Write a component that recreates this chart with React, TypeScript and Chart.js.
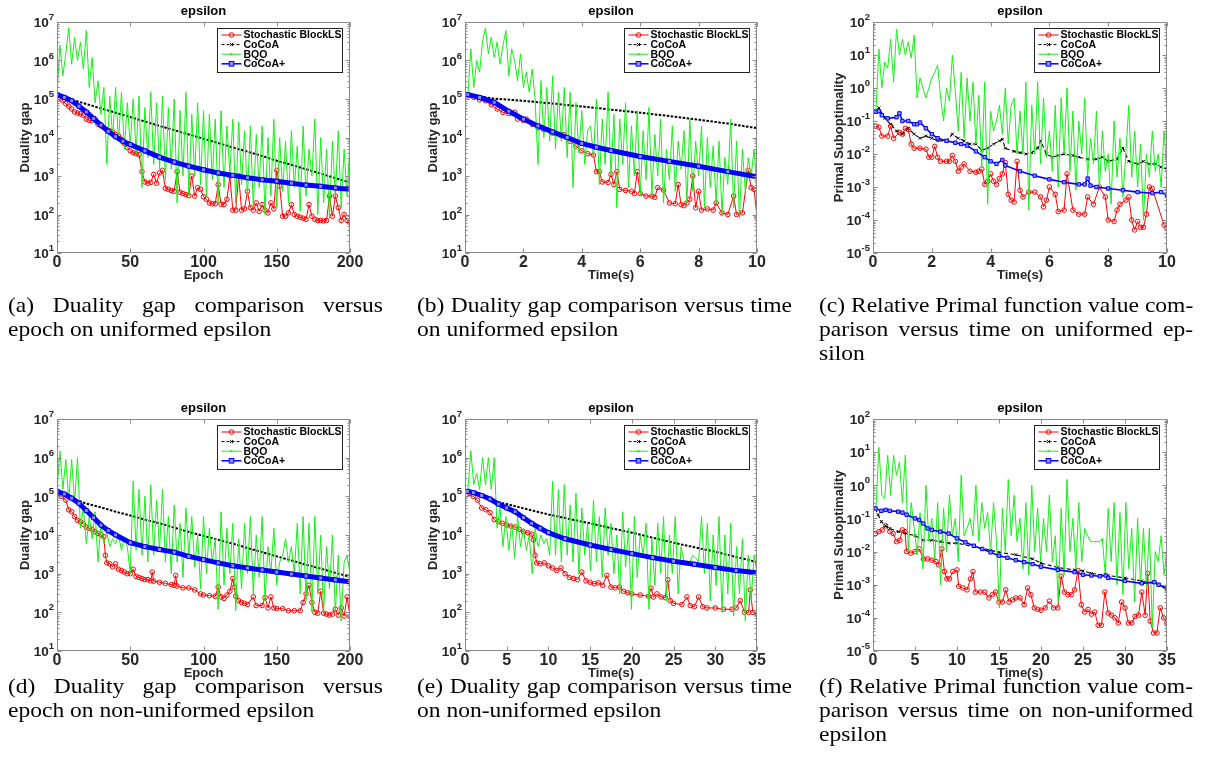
import React, { useEffect, useRef } from "react";
import { Chart, registerables } from "chart.js";

Chart.register(...registerables);

const SANS = '"Liberation Sans", Arial, Helvetica, sans-serif';
const SERIF = '"Liberation Serif", "Times New Roman", Times, serif';
const TICK_COLOR = "#262626";

const seriesNames = ["Stochastic BlockLS", "CoCoA", "BQO", "CoCoA+"];

// ---------- category grids (x positions of the sampled points) ----------
const epochGrid = Array.from({ length: 101 }, (_, i) => i * 2);
const time10Grid = Array.from({ length: 100 }, (_, i) => ((i + 1) * 10) / 100);
const time35Grid = Array.from({ length: 100 }, (_, i) => ((i + 1) * 35) / 100);

// ---------- (a) duality gap vs epoch, uniformed ----------
const aRed = [
  1.2e5, 1.05e5, 9e4, 7.5e4, 6.5e4, 5.5e4, 4.6e4, 4.3e4, 4.1e4, 3.8e4,
  3e4, 2.8e4, 2.7e4, 3e4, 2.2e4, 2e4, 1.8e4, 1.6e4, 1.5e4, 1.4e4,
  1.2e4, 1.1e4, 9e3, 7e3, 5.5e3, 4.5e3, 4e3, 3.8e3, 3.6e3, 1.3e3,
  700, 650, 680, 1.1e3, 650, 1.2e3, 1.4e3, 480, 450, 420,
  400, 1.3e3, 380, 350, 330, 310, 1e3, 300, 500, 450,
  290, 250, 200, 190, 190, 600, 185, 180, 250, 1e3,
  130, 130, 1e3, 130, 140, 400, 150, 130, 200, 120,
  180, 130, 110, 200, 140, 1.4e3, 550, 90, 90, 110,
  180, 100, 90, 85, 80, 75, 180, 90, 75, 70,
  70, 68, 70, 300, 90, 300, 150, 70, 100, 70,
  62,
];
const aBQO = [
  1.3e5, 2.5e6, 4e5, 1.5e6, 7e6, 8e5, 4e6, 1e6, 3e6, 6e5,
  6e6, 2e5, 1.2e6, 8e4, 3e5, 4e4, 2e5, 2e3, 1.2e5, 1e4,
  2e5, 8e3, 1.5e5, 5e3, 8e4, 6e3, 1e5, 4e3, 1.2e5, 5e2,
  6e4, 3e3, 1.5e5, 2e3, 8e4, 1.5e3, 1.2e5, 8e2, 6e4, 1.5e3,
  1e5, 2e2, 5e4, 1e3, 1.5e5, 3e2, 4e4, 1e3, 8e4, 6e2,
  5e4, 3e2, 4e4, 8e2, 3e4, 2e2, 5e4, 5e2, 2e4, 1.2e3,
  3e4, 2e2, 2.5e4, 6e2, 1.5e4, 3e2, 2e4, 1.5e2, 1.2e4, 5e2,
  2e4, 1e2, 1e4, 3e2, 3e4, 1.5e2, 1e4, 4e2, 8e3, 2e2,
  1.5e4, 5e2, 6e3, 1.2e2, 2e4, 3e2, 5e3, 1e3, 3e4, 1e2,
  1e4, 2e2, 5e3, 8e1, 8e3, 3e2, 1.5e4, 1.5e2, 5e3, 3e2,
  8e3,
];
const aCoCoAEpochs = [0, 10, 20, 30, 40, 50, 60, 70, 80, 90, 100, 110, 120, 130, 140, 150, 160, 170, 180, 190, 200];
const aCoCoA = [1.25e5, 9.6e4, 7.4e4, 5.7e4, 4.4e4, 3.4e4, 2.6e4, 2.0e4, 1.55e4, 1.2e4, 9.3e3, 7.2e3, 5.5e3, 4.3e3, 3.3e3, 2.5e3, 1.95e3, 1.5e3, 1.15e3, 880, 680];
const aPlusEpochs = [0, 5, 10, 15, 20, 25, 30, 35, 40, 45, 50, 60, 70, 80, 90, 100, 110, 120, 130, 140, 150, 160, 170, 180, 190, 200];
const aCoCoAPlus = [1.3e5, 1.1e5, 9e4, 6.5e4, 4.6e4, 3.1e4, 2.1e4, 1.45e4, 1.05e4, 8e3, 6.6e3, 4.5e3, 3.1e3, 2.3e3, 1.8e3, 1.45e3, 1.2e3, 1.04e3, 900, 800, 730, 650, 580, 540, 490, 450];

// ---------- (b) duality gap vs time, uniformed ----------
const bRedTimes = [
  0.1, 0.3, 0.5, 0.7, 0.9, 1.1, 1.3, 1.5, 1.7, 1.8, 2.0, 2.1, 2.3, 2.5, 2.7, 3.0, 3.3, 3.4, 3.6, 3.8,
  4.0, 4.2, 4.4, 4.5, 4.6, 4.7, 4.9, 5.0, 5.1, 5.2, 5.3, 5.5, 5.7, 5.8, 5.9, 6.0, 6.2, 6.4, 6.5, 6.6,
  6.8, 7.0, 7.2, 7.3, 7.4, 7.5, 7.6, 7.7, 7.8, 7.9, 8.0, 8.1, 8.3, 8.5, 8.6, 8.8, 9.0, 9.2, 9.3, 9.5,
  9.7, 9.8, 9.9, 10,
];
const bRed = [
  1.2e5, 1.1e5, 9.5e4, 9e4, 7e4, 5.5e4, 4.5e4, 4.2e4, 4.5e4, 3e4, 2.8e4, 3e4, 2.2e4, 1.8e4, 1.6e4, 1.3e4, 1.1e4, 1.2e4, 8e3, 6e3,
  4.5e3, 3.8e3, 3.5e3, 1.3e3, 1.3e3, 700, 680, 1.1e3, 600, 1.3e3, 450, 420, 400, 350, 1.3e3, 350, 300, 300, 280, 500,
  430, 200, 190, 600, 180, 170, 200, 250, 1e3, 150, 400, 130, 140, 130, 200, 110, 100, 300, 100, 110,
  1.4e3, 500, 450, 85,
];
const bBQO = [
  1.3e5, 2e6, 2e5, 1e6, 5e5, 3e6, 7e6, 1.5e6, 4e6, 1.2e6,
  3e6, 8e5, 2.5e6, 6e6, 4e5, 2e6, 1e6, 3e5, 1.5e6, 2e5,
  5e5, 1.5e5, 6e5, 1e5, 2e3, 3e5, 1e4, 2e5, 8e3, 4e5,
  5e3, 1.5e5, 8e3, 2e5, 3e3, 1.5e5, 5e2, 8e4, 4e3, 5e4,
  2e3, 1.5e4, 2e4, 3e3, 1e5, 6e2, 3e4, 2e3, 1.5e5, 1e3,
  4e4, 1.5e2, 3e4, 2e3, 8e4, 5e2, 2e4, 1e3, 5e4, 3e2,
  1.5e4, 8e2, 6e4, 3e2, 1.2e4, 1e3, 3e4, 2e2, 5e3, 8e2,
  2e4, 4e2, 8e3, 1.5e3, 1.5e4, 2e2, 3e4, 4e2, 8e3, 1e3,
  2e4, 1.5e2, 1e4, 5e2, 6e3, 2e2, 8e3, 1e2, 3e3, 6e2,
  3e4, 1.5e2, 8e3, 80, 5e3, 4e2, 3e3, 1e3, 5e3, 4e2,
];
const bCoCoATimes = [0.1, 1, 2, 3, 4, 5, 6, 7, 8, 9, 10];
const bCoCoA = [1.3e5, 1.02e5, 9e4, 7.6e4, 6.4e4, 5.3e4, 4.4e4, 3.6e4, 2.9e4, 2.3e4, 1.75e4];
const bPlusTimes = [0.1, 0.5, 1, 1.5, 2, 2.5, 3, 3.5, 4, 4.5, 5, 6, 7, 8, 9, 10];
const bCoCoAPlus = [1.3e5, 1.1e5, 8.2e4, 4.8e4, 3e4, 2e4, 1.4e4, 1e4, 7e3, 5.6e3, 4.6e3, 3.2e3, 2.4e3, 1.8e3, 1.3e3, 950];

// ---------- (c) primal suboptimality vs time, uniformed ----------
const cRedTimes = [
  0.1, 0.2, 0.3, 0.5, 0.6, 0.7, 0.9, 1.0, 1.1, 1.2, 1.3, 1.4, 1.6, 1.8, 1.9, 2.0, 2.1, 2.2, 2.3, 2.5,
  2.6, 2.7, 2.8, 2.9, 3.0, 3.1, 3.3, 3.5, 3.6, 3.7, 3.8, 3.9, 4.0, 4.1, 4.2, 4.3, 4.4, 4.5, 4.6, 4.7,
  4.8, 4.9, 5.0, 5.1, 5.3, 5.5, 5.7, 5.8, 5.9, 6.0, 6.2, 6.3, 6.5, 6.6, 6.8, 7.0, 7.2, 7.3, 7.5, 7.7,
  7.9, 8.0, 8.2, 8.3, 8.4, 8.6, 8.7, 8.8, 8.9, 9.0, 9.1, 9.2, 9.3, 9.4, 9.5, 9.9, 10,
];
const cRed = [
  0.07, 0.065, 0.035, 0.035, 0.07, 0.03, 0.045, 0.04, 0.06, 0.055, 0.02, 0.015, 0.015, 0.014, 0.008, 0.008, 0.017, 0.008, 0.006, 0.006,
  0.006, 0.009, 0.006, 0.003, 0.004, 0.005, 0.003, 0.0028, 0.003, 0.0035, 0.0012, 0.0015, 0.0025, 0.0015, 0.0012, 0.0018, 0.0025, 0.0055, 0.0006, 0.0004,
  0.00035, 0.006, 0.0008, 0.0005, 0.0007, 0.0007, 0.0005, 0.00025, 0.0004, 0.001, 0.0006, 0.00018, 0.0002, 0.0025, 0.0002, 0.00015, 0.00015, 0.0005, 0.0003, 0.001,
  0.0005, 0.0001, 0.00009, 0.0002, 0.0003, 0.0004, 0.0005, 0.0001, 0.00005, 0.00009, 0.00006, 0.00006, 0.00015, 0.001, 0.0009, 0.00007, 0.000055,
];
const cBQO = [
  0.2, 15, 1, 6, 4, 30, 1.5, 60, 10, 30,
  10, 25, 8, 40, 0.5, 2, 1, 0.5, 1, 2,
  3, 5, 0.5, 0.1, 1, 0.4, 10, 0.8, 0.05, 3,
  0.03, 2, 0.1, 1.5, 0.02, 0.6, 0.004, 1.5, 0.0003, 0.2,
  0.05, 0.1, 0.3, 0.04, 1, 0.02, 0.3, 0.5, 0.01, 0.2,
  0.01, 1.5, 0.0002, 0.3, 0.01, 1.5, 0.005, 0.5, 0.008, 0.05,
  0.003, 0.3, 0.001, 0.5, 0.01, 1, 0.003, 0.2, 0.0008, 0.1,
  0.01, 0.5, 0.002, 0.03, 0.005, 0.2, 0.0008, 0.05, 0.003, 0.01,
  0.0003, 0.1, 0.002, 0.03, 0.0005, 0.01, 0.3, 0.002, 0.05, 0.001,
  0.02, 0.0001, 0.01, 0.002, 0.05, 0.003, 0.01, 0.001, 0.05, 0.003,
];
const cCoCoATimes = [
  0.1, 0.2, 0.4, 0.6, 0.8, 1.0, 1.2, 1.4, 1.6, 1.8, 2.0, 2.2, 2.5, 2.7, 2.9, 3.1, 3.3, 3.5, 3.7, 3.9,
  4.1, 4.3, 4.4, 4.5, 4.8, 5.0, 5.2, 5.4, 5.6, 5.7, 5.9, 6.1, 6.3, 6.5, 6.8, 7.0, 7.3, 7.6, 7.8, 8.0,
  8.3, 8.5, 8.7, 9.0, 9.2, 9.4, 9.6, 9.8, 10,
];
const cCoCoA = [
  0.2, 0.25, 0.12, 0.08, 0.05, 0.04, 0.06, 0.04, 0.03, 0.035, 0.03, 0.025, 0.025, 0.04, 0.03, 0.025, 0.02, 0.02, 0.013, 0.015,
  0.02, 0.025, 0.028, 0.015, 0.012, 0.011, 0.01, 0.011, 0.015, 0.025, 0.01, 0.008, 0.009, 0.01, 0.009, 0.008, 0.007, 0.007, 0.008, 0.006,
  0.007, 0.015, 0.006, 0.005, 0.006, 0.005, 0.005, 0.004, 0.0035,
];
const cPlusTimes = [
  0.1, 0.2, 0.3, 0.5, 0.8, 0.9, 1.0, 1.2, 1.4, 1.5, 1.6, 1.8, 2.0, 2.2, 2.5, 2.8, 3.0, 3.2, 3.5, 3.8,
  4.0, 4.2, 4.4, 4.5, 5.0, 5.5, 6.0, 6.5, 7.0, 7.2, 7.3, 7.4, 7.6, 8.0, 8.5, 9.0, 9.5, 9.8, 10,
];
const cCoCoAPlus = [
  0.19, 0.2, 0.15, 0.12, 0.13, 0.17, 0.1, 0.1, 0.08, 0.08, 0.09, 0.06, 0.04, 0.03, 0.025, 0.022, 0.02, 0.018, 0.012, 0.008,
  0.006, 0.005, 0.0066, 0.0045, 0.003, 0.0022, 0.0017, 0.0014, 0.0012, 0.0012, 0.0018, 0.0011, 0.001, 0.0009, 0.0008, 0.0007, 0.00065, 0.0007, 0.00055,
];

// ---------- (d) duality gap vs epoch, non-uniformed ----------
const dRedEpochs = [
  0, 3, 6, 8, 10, 12, 14, 16, 18, 20, 22, 24, 26, 28, 30, 32, 33, 34, 36, 38,
  40, 42, 44, 46, 48, 50, 52, 54, 56, 58, 60, 62, 64, 65, 66, 70, 74, 78, 80, 81,
  82, 86, 90, 94, 98, 100, 104, 108, 110, 112, 114, 116, 118, 120, 121, 122, 124, 126, 128, 130,
  134, 136, 140, 142, 144, 146, 148, 150, 154, 158, 162, 166, 168, 170, 172, 174, 176, 178, 180, 182,
  184, 186, 188, 190, 192, 194, 196, 198, 200,
];
const dRed = [
  1.1e5, 1e5, 8e4, 4.5e4, 4e4, 3e4, 2.4e4, 2.2e4, 1.9e4, 1.6e4, 1.5e4, 1.4e4, 1.2e4, 1.1e4, 1e4, 9e3, 3e3, 1.9e3, 1.8e3, 1.5e3,
  1.8e3, 1.3e3, 1.2e3, 1.1e3, 1e3, 1e3, 1.3e3, 850, 800, 750, 700, 700, 650, 1.1e3, 640, 600, 560, 520, 500, 900,
  480, 430, 430, 380, 300, 280, 270, 260, 450, 250, 230, 280, 350, 750, 450, 260, 200, 180, 170, 160,
  250, 150, 150, 240, 130, 250, 130, 125, 125, 110, 110, 110, 180, 300, 500, 180, 100, 95, 350, 95,
  90, 85, 90, 120, 85, 130, 80, 250, 80,
];
const dBQO = [
  1.5e5, 1.5e6, 1.5e5, 9e5, 8e4, 9e5, 7e4, 1e6, 1.5e4, 5e4,
  6e3, 3e4, 8e3, 4e4, 2e3, 2e4, 6e3, 1.2e4, 5e3, 8e3,
  6e3, 1e4, 4e3, 9e3, 5e3, 1e3, 2.5e5, 4e3, 1.5e5, 3e3,
  1e5, 2e3, 2e5, 3e3, 8e4, 4e3, 1.5e5, 2e3, 3e4, 1e3,
  6e4, 2e3, 2e4, 8e2, 5e4, 3e3, 3e4, 1.5e3, 1e4, 4e2,
  3e4, 1e3, 1.5e4, 2e3, 8e3, 1.2e2, 4e4, 5e2, 1.5e4, 1e3,
  2e4, 1.1e2, 8e3, 4e2, 2e4, 1e3, 3e4, 3e2, 1e4, 8e2,
  3e4, 2e2, 5e3, 1e3, 1.5e4, 5e2, 2e3, 3e3, 8e3, 2e3,
  5e3, 1e3, 2e4, 3e2, 3e4, 2e2, 2e4, 1e2, 3e4, 3e2,
  1e4, 1e2, 5e3, 4e2, 1e4, 1e2, 3e3, 60, 2e3, 3e3,
  1e3,
];
const dCoCoAEpochs = [0, 10, 20, 30, 40, 50, 60, 70, 80, 90, 100, 110, 120, 130, 140, 150, 160, 170, 180, 190, 200];
const dCoCoA = [1.3e5, 9e4, 6.5e4, 5.2e4, 4e4, 3.2e4, 2.5e4, 2e4, 1.55e4, 1.2e4, 9.5e3, 7.5e3, 6e3, 4.6e3, 3.6e3, 2.8e3, 2.2e3, 1.7e3, 1.35e3, 1.05e3, 830];
const dPlusEpochs = [0, 5, 10, 15, 20, 25, 30, 35, 40, 50, 60, 70, 80, 90, 100, 110, 120, 130, 140, 150, 160, 170, 180, 190, 200];
const dCoCoAPlus = [1.35e5, 1.15e5, 9e4, 6.6e4, 4.3e4, 2.8e4, 1.8e4, 1.3e4, 1e4, 6.3e3, 5e3, 4.2e3, 3.6e3, 2.8e3, 2.3e3, 1.9e3, 1.6e3, 1.4e3, 1.25e3, 1.1e3, 980, 870, 770, 690, 620];

// ---------- (e) duality gap vs time, non-uniformed ----------
const eRedTimes = [
  0.2, 1, 1.5, 2, 2.5, 3, 3.5, 4, 4.5, 5, 5.5, 6, 6.5, 7, 7.5, 8, 8.2, 8.4, 8.6, 9,
  9.5, 10, 10.5, 11, 11.5, 12, 12.5, 13, 13.5, 14, 14.5, 15, 15.5, 16, 16.5, 17, 17.5, 18, 18.5, 19,
  19.5, 20, 21, 22, 22.3, 22.6, 23, 23.5, 24, 24.3, 24.6, 25, 26, 26.6, 27, 27.5, 28, 28.5, 29, 30,
  31, 32, 32.5, 33, 33.5, 34, 34.2, 34.5, 35,
];
const eRed = [
  1.1e5, 1e5, 8e4, 5e4, 4.5e4, 3.8e4, 2.5e4, 2.2e4, 2e4, 1.8e4, 1.7e4, 1.6e4, 1.4e4, 1.2e4, 1.15e4, 1.05e4, 7.5e3, 3e3, 1.9e3, 1.8e3,
  1.9e3, 1.6e3, 1.4e3, 1.2e3, 1.4e3, 1e3, 800, 750, 700, 1.1e3, 650, 600, 550, 580, 500, 900, 450, 430, 450, 350,
  320, 300, 280, 260, 420, 250, 300, 250, 240, 700, 200, 170, 160, 250, 150, 140, 250, 140, 130, 130,
  120, 120, 130, 200, 100, 100, 380, 100, 90,
];
const eBQO = [
  1.5e5, 1.5e6, 2e5, 4e5, 1.5e5, 1e6, 2e5, 1e6, 1.5e5, 1e6,
  1.5e4, 5e4, 5e3, 3e4, 4e3, 2e4, 2.5e3, 3e4, 5e3, 1.5e4,
  4e3, 1e4, 1e3, 1.5e4, 5e3, 1e4, 6e3, 8e3, 3e3, 2.5e5,
  3e3, 1.5e5, 2e3, 2e5, 3e3, 6e4, 2e3, 1.2e5, 1e3, 5e4,
  3e3, 2e4, 1.2e3, 8e4, 2e3, 3e4, 8e2, 5e4, 3e3, 2e4,
  1e3, 1e4, 3e2, 4e4, 1.5e3, 1.5e4, 1.2e2, 3e4, 8e2, 1e4,
  3e3, 2e4, 1.2e2, 8e3, 5e2, 2e4, 1e3, 3e4, 2e2, 1e4,
  1e3, 3e4, 3e2, 5e3, 2e3, 2e3, 2e3, 3e3, 2.5e3, 2e3,
  3e4, 1e3, 2e4, 2e2, 1e4, 5e2, 3e4, 1e2, 1e4, 3e2,
  2e4, 80, 5e3, 3e2, 8e3, 60, 3e3, 2e2, 3e3, 1e3,
];
const eCoCoATimes = [0.3, 2, 3.5, 5, 7.5, 10, 12.5, 15, 17.5, 20, 22.5, 25, 27.5, 30, 32.5, 35];
const eCoCoA = [1.3e5, 1e5, 7.5e4, 6.3e4, 4.6e4, 3.4e4, 2.6e4, 2e4, 1.5e4, 1.15e4, 8.5e3, 6.3e3, 4.8e3, 3.7e3, 2.7e3, 2e3];
const ePlusTimes = [0.3, 1, 2, 3, 4, 5, 6, 7, 8, 9, 10, 12, 15, 17.5, 20, 22.5, 25, 27.5, 30, 32.5, 35];
const eCoCoAPlus = [1.35e5, 1.25e5, 1.05e5, 8.5e4, 6.3e4, 5e4, 4e4, 2.8e4, 2e4, 1.5e4, 1.15e4, 8e3, 5.5e3, 4.2e3, 3.3e3, 2.6e3, 2.1e3, 1.75e3, 1.45e3, 1.2e3, 1.05e3];

// ---------- (f) primal suboptimality vs time, non-uniformed ----------
const fRedTimes = [
  0.3, 0.7, 1.1, 1.5, 2, 2.4, 2.8, 3.2, 3.5, 3.8, 4, 4.5, 5, 5.5, 6, 6.5, 7, 7.5, 7.8, 8.2,
  8.5, 8.8, 9.1, 9.5, 10, 10.2, 10.7, 11.2, 11.6, 11.9, 12.2, 12.8, 13.3, 13.8, 14.2, 14.6, 15, 15.4, 15.8, 16.2,
  16.6, 17, 17.5, 18, 18.4, 18.8, 19.2, 19.6, 20, 20.5, 21, 21.5, 22, 22.4, 22.8, 23.2, 23.6, 24, 24.4, 24.8,
  25.2, 25.6, 26, 26.4, 26.8, 27.2, 27.6, 28, 28.4, 28.8, 29.2, 29.6, 30, 30.4, 30.8, 31.2, 31.6, 32, 32.4, 32.7,
  33, 33.4, 33.8, 34.2, 34.6, 35,
];
const fRed = [
  0.035, 0.04, 0.045, 0.06, 0.04, 0.035, 0.02, 0.022, 0.045, 0.04, 0.01, 0.009, 0.01, 0.012, 0.006, 0.006, 0.0055, 0.005, 0.004, 0.012,
  0.0025, 0.0015, 0.0015, 0.0025, 0.0028, 0.0009, 0.0008, 0.0007, 0.0015, 0.0025, 0.0006, 0.0006, 0.0006, 0.0004, 0.0005, 0.0006, 0.0003, 0.0003, 0.0007, 0.0003,
  0.00035, 0.0004, 0.0004, 0.00025, 0.0008, 0.0005, 0.0002, 0.00018, 0.00017, 0.0002, 0.00032, 0.0002, 0.0002, 0.0018, 0.0006, 0.0005, 0.0005, 0.0007, 0.0027, 0.00025,
  0.00015, 0.00018, 0.00013, 0.00015, 0.00006, 0.00006, 0.0006, 0.00014, 0.00012, 0.0001, 0.00007, 0.0003, 0.0002, 0.00007, 0.00007, 0.00011, 0.00012, 0.0006, 0.00012, 0.0022,
  0.00008, 0.000035, 0.000035, 0.0002, 0.0001, 0.00007,
];
const fBQO = [
  0.2, 14, 0.5, 0.4, 8, 0.5, 8, 2, 5, 0.3,
  8, 0.01, 0.3, 0.05, 0.008, 0.15, 0.003, 1, 0.02, 0.1,
  0.006, 0.3, 0.001, 0.2, 0.01, 0.5, 0.03, 0.1, 0.005, 2,
  0.03, 0.05, 0.1, 0.03, 1, 0.02, 0.3, 0.05, 0.15, 0.01,
  0.3, 0.02, 0.0002, 0.2, 0.01, 1.5, 0.03, 0.5, 0.02, 0.1,
  0.003, 0.3, 0.002, 1, 0.01, 0.2, 0.005, 0.1, 0.01, 0.5,
  0.005, 0.03, 0.0003, 0.2, 0.002, 1.5, 0.01, 0.1, 0.003, 0.3,
  0.005, 0.05, 0.03, 0.02, 0.02, 0.02, 0.02, 0.025, 0.002, 0.2,
  0.005, 0.3, 0.001, 0.15, 0.0005, 0.3, 0.003, 0.05, 0.0003, 0.1,
  0.001, 0.05, 0.0008, 0.05, 0.00005, 0.01, 0.005, 0.03, 0.002, 0.01,
];
const fCoCoATimes = [0.3, 0.6, 1, 1.5, 2, 3, 4, 5, 6, 7, 8, 9, 10, 12, 14, 15, 17, 19, 20, 22, 24, 25, 26, 28, 30, 32, 34, 35];
const fCoCoA = [0.2, 0.13, 0.08, 0.06, 0.05, 0.04, 0.035, 0.03, 0.022, 0.022, 0.02, 0.018, 0.018, 0.014, 0.011, 0.0095, 0.008, 0.006, 0.0045, 0.0033, 0.0028, 0.0026, 0.0022, 0.0019, 0.0016, 0.0013, 0.001, 0.0007];
const fPlusTimes = [0.3, 1, 1.5, 2, 3, 3.5, 4, 5, 5.5, 6, 6.5, 7, 8, 9, 10, 11, 12, 13, 14, 15, 16, 17, 18, 19, 20, 22, 24, 25, 26, 27, 27.7, 28, 30, 32, 33.5, 34, 35];
const fCoCoAPlus = [0.2, 0.17, 0.18, 0.17, 0.16, 0.15, 0.13, 0.1, 0.09, 0.07, 0.05, 0.045, 0.04, 0.035, 0.025, 0.019, 0.015, 0.012, 0.0095, 0.0075, 0.0065, 0.0055, 0.0048, 0.0042, 0.0035, 0.0028, 0.0024, 0.002, 0.0019, 0.0018, 0.0019, 0.0016, 0.0013, 0.0011, 0.0012, 0.001, 0.0008];

// ---------- captions ----------
const captionsTop = [
  ["(a) Duality gap comparison versus", "epoch on uniformed epsilon"],
  ["(b) Duality gap comparison versus time", "on uniformed epsilon"],
  ["(c) Relative Primal function value com-", "parison versus time on uniformed ep-", "silon"],
];
const captionsBottom = [
  ["(d) Duality gap comparison versus", "epoch on non-uniformed epsilon"],
  ["(e) Duality gap comparison versus time", "on non-uniformed epsilon"],
  ["(f) Relative Primal function value com-", "parison versus time on non-uniformed", "epsilon"],
];

type Series = { x: number[]; y: number[] };
type Panel = {
  l: number; t: number; r: number; b: number;
  xMin: number; xMax: number; xStep: number; xTitle: string;
  yTitle: string; yMinE: number; yMaxE: number; yTitleX: number;
  dense: boolean;
  red: Series; black: Series; green: Series; blue: Series;
};

const panels: Panel[] = [
  { l: 57, t: 22, r: 350, b: 253, xMin: 0, xMax: 200, xStep: 50, xTitle: "Epoch", yTitle: "Duality gap", yMinE: 1, yMaxE: 7, yTitleX: 28, dense: true,
    red: { x: epochGrid, y: aRed }, black: { x: aCoCoAEpochs, y: aCoCoA }, green: { x: epochGrid, y: aBQO }, blue: { x: aPlusEpochs, y: aCoCoAPlus } },
  { l: 465, t: 22, r: 757, b: 253, xMin: 0, xMax: 10, xStep: 2, xTitle: "Time(s)", yTitle: "Duality gap", yMinE: 1, yMaxE: 7, yTitleX: 28, dense: true,
    red: { x: bRedTimes, y: bRed }, black: { x: bCoCoATimes, y: bCoCoA }, green: { x: time10Grid, y: bBQO }, blue: { x: bPlusTimes, y: bCoCoAPlus } },
  { l: 873, t: 22, r: 1167, b: 253, xMin: 0, xMax: 10, xStep: 2, xTitle: "Time(s)", yTitle: "Primal Suboptimality", yMinE: -5, yMaxE: 2, yTitleX: 26, dense: false,
    red: { x: cRedTimes, y: cRed }, black: { x: cCoCoATimes, y: cCoCoA }, green: { x: time10Grid, y: cBQO }, blue: { x: cPlusTimes, y: cCoCoAPlus } },
  { l: 57, t: 419, r: 350, b: 651, xMin: 0, xMax: 200, xStep: 50, xTitle: "Epoch", yTitle: "Duality gap", yMinE: 1, yMaxE: 7, yTitleX: 28, dense: true,
    red: { x: dRedEpochs, y: dRed }, black: { x: dCoCoAEpochs, y: dCoCoA }, green: { x: epochGrid, y: dBQO }, blue: { x: dPlusEpochs, y: dCoCoAPlus } },
  { l: 465, t: 419, r: 757, b: 651, xMin: 0, xMax: 35, xStep: 5, xTitle: "Time(s)", yTitle: "Duality gap", yMinE: 1, yMaxE: 7, yTitleX: 28, dense: true,
    red: { x: eRedTimes, y: eRed }, black: { x: eCoCoATimes, y: eCoCoA }, green: { x: time35Grid, y: eBQO }, blue: { x: ePlusTimes, y: eCoCoAPlus } },
  { l: 873, t: 419, r: 1167, b: 651, xMin: 0, xMax: 35, xStep: 5, xTitle: "Time(s)", yTitle: "Primal Suboptimality", yMinE: -5, yMaxE: 2, yTitleX: 26, dense: false,
    red: { x: fRedTimes, y: fRed }, black: { x: fCoCoATimes, y: fCoCoA }, green: { x: time35Grid, y: fBQO }, blue: { x: fPlusTimes, y: fCoCoAPlus } },
];

const YW = 60; // width reserved for y axis inside canvas
const TOP = 22; // space above plot area inside canvas
const XH = 42; // x axis height
const CW = 400;

const RED = "#ff0000";
const GREEN = "#14f014";
const BLUE = "#0000ff";
const BLUE_FILL = "#8f8fff";

function drawMarker(ctx: CanvasRenderingContext2D, kind: number, x: number, y: number) {
  ctx.save();
  ctx.setLineDash([]);
  ctx.lineWidth = 1;
  if (kind === 0) {
    ctx.strokeStyle = RED;
    ctx.beginPath();
    ctx.arc(x, y, 2.3, 0, Math.PI * 2);
    ctx.stroke();
  } else if (kind === 1) {
    ctx.strokeStyle = "#000";
    ctx.beginPath();
    ctx.moveTo(x - 1.6, y - 1.6); ctx.lineTo(x + 1.6, y + 1.6);
    ctx.moveTo(x + 1.6, y - 1.6); ctx.lineTo(x - 1.6, y + 1.6);
    ctx.stroke();
  } else if (kind === 2) {
    ctx.fillStyle = GREEN;
    ctx.fillRect(x - 1, y - 1, 2, 2);
  } else {
    ctx.fillStyle = BLUE_FILL;
    ctx.strokeStyle = BLUE;
    ctx.fillRect(x - 2.3, y - 2.3, 4.6, 4.6);
    ctx.strokeRect(x - 2.3, y - 2.3, 4.6, 4.6);
  }
  ctx.restore();
}

const matlabPlugin = {
  id: "matlab",
  afterDraw(chart: any, _args: any, opts: any) {
    const ctx: CanvasRenderingContext2D = chart.ctx;
    const a = chart.chartArea;
    const xs = chart.scales.x;
    const ys = chart.scales.y;
    const L = Math.round(a.left) + 0.5;
    const R = Math.round(a.right) - 0.5;
    const T = Math.round(a.top) + 0.5;
    const B = Math.round(a.bottom) - 0.5;
    ctx.save();
    ctx.strokeStyle = "#8a8a8a";
    ctx.lineWidth = 1;
    ctx.setLineDash([]);
    const seg = (x1: number, y1: number, x2: number, y2: number) => {
      ctx.beginPath(); ctx.moveTo(x1, y1); ctx.lineTo(x2, y2); ctx.stroke();
    };
    // y ticks (major + minor, inside on both sides)
    for (let e = opts.yMinE; e <= opts.yMaxE; e++) {
      const y = Math.round(ys.getPixelForValue(Math.pow(10, e))) + 0.5;
      seg(L, y, L + 4, y); seg(R, y, R - 4, y);
      if (e < opts.yMaxE) {
        for (let m = 2; m <= 9; m++) {
          const ym = Math.round(ys.getPixelForValue(m * Math.pow(10, e))) + 0.5;
          seg(L, ym, L + 2, ym); seg(R, ym, R - 2, ym);
        }
      }
    }
    // x ticks
    xs.ticks.forEach((t: any) => {
      const x = Math.round(xs.getPixelForValue(t.value)) + 0.5;
      seg(x, B, x, B - 4); seg(x, T, x, T + 4);
    });
    // box
    ctx.strokeRect(L, T, R - L, B - T);

    // y tick labels 10^k
    ctx.fillStyle = TICK_COLOR;
    ctx.textBaseline = "middle";
    ctx.textAlign = "left";
    for (let e = opts.yMinE; e <= opts.yMaxE; e++) {
      const y = ys.getPixelForValue(Math.pow(10, e));
      const expText = String(e);
      ctx.font = `bold 9.5px ${SANS}`;
      const ew = ctx.measureText(expText).width;
      ctx.font = `bold 13.5px ${SANS}`;
      const bw = ctx.measureText("10").width;
      const xEnd = a.left - 3;
      ctx.fillText("10", xEnd - ew - bw, y + 1.5);
      ctx.font = `bold 9.5px ${SANS}`;
      ctx.fillText(expText, xEnd - ew, y - 4.5);
    }

    // title
    ctx.fillStyle = "#000";
    ctx.font = `bold 13px ${SANS}`;
    ctx.textAlign = "center";
    ctx.fillText("epsilon", (a.left + a.right) / 2, a.top - 10.5);

    // legend inside the plot
    const bwid = 125, bh = 44;
    const bx = Math.round(a.right - 8 - bwid) + 0.5;
    const by = Math.round(a.top + 6) + 0.5;
    ctx.fillStyle = "#fff";
    ctx.fillRect(bx, by, bwid, bh);
    ctx.strokeStyle = "#222";
    ctx.strokeRect(bx, by, bwid, bh);
    const colors = [RED, "#000", GREEN, BLUE];
    seriesNames.forEach((name, i) => {
      const cy = by + 6.5 + i * 9.6;
      ctx.save();
      ctx.strokeStyle = colors[i];
      ctx.lineWidth = i === 3 ? 1.5 : 1;
      ctx.setLineDash(i === 1 ? [3, 2] : []);
      seg(bx + 4, cy, bx + 24, cy);
      ctx.restore();
      drawMarker(ctx, i, bx + 14, cy);
      ctx.fillStyle = "#000";
      ctx.font = `bold 10.5px ${SANS}`;
      ctx.textAlign = "left";
      ctx.textBaseline = "middle";
      ctx.fillText(name, bx + 26, cy + 0.5);
    });
    ctx.restore();
  },
};

function PanelChart({ p }: { p: Panel }) {
  const ref = useRef<HTMLCanvasElement | null>(null);
  const plotW = p.r - p.l;
  const plotH = p.b - p.t;
  const H = plotH + TOP + XH;
  useEffect(() => {
    if (!ref.current) return;
    const mk = (s: Series) => s.x.map((x, i) => ({ x, y: s.y[i] }));
    const chart = new Chart(ref.current, {
      type: "line",
      data: {
        datasets: [
          {
            label: seriesNames[0], data: mk(p.red), borderColor: RED, borderWidth: 1,
            pointStyle: "circle", pointRadius: 2.3, pointBorderColor: RED,
            pointBackgroundColor: "rgba(255,255,255,0)", pointBorderWidth: 1, order: 3,
          },
          {
            label: seriesNames[1], data: mk(p.black), borderColor: "#000",
            borderWidth: p.dense ? 2 : 1.1, borderDash: p.dense ? [2.5, 1.5] : [4, 2.5],
            pointStyle: "crossRot", pointRadius: p.dense ? 0 : 2, pointBorderColor: "#000",
            pointBorderWidth: 1, order: 2,
          },
          {
            label: seriesNames[2], data: mk(p.green), borderColor: GREEN, borderWidth: 1,
            pointRadius: 0, order: 1,
          },
          {
            label: seriesNames[3], data: mk(p.blue), borderColor: BLUE,
            borderWidth: p.dense ? 5 : 1.6, pointStyle: "rect",
            pointRadius: p.dense ? 2.8 : 2.4, pointBorderColor: BLUE,
            pointBackgroundColor: BLUE_FILL, pointBorderWidth: 1, order: 0,
          },
        ],
      },
      options: {
        responsive: false,
        animation: false,
        devicePixelRatio: 1,
        events: [],
        layout: { padding: { left: 0, top: TOP, right: CW - YW - plotW, bottom: 0 } },
        plugins: {
          legend: { display: false },
          title: { display: false },
          tooltip: { enabled: false },
          matlab: { yMinE: p.yMinE, yMaxE: p.yMaxE },
        } as any,
        scales: {
          x: {
            type: "linear",
            min: p.xMin,
            max: p.xMax,
            grid: { display: false, drawTicks: false },
            border: { display: false },
            ticks: {
              stepSize: p.xStep, autoSkip: false, maxRotation: 0, padding: 0,
              color: TICK_COLOR, font: { family: SANS, size: 16, weight: "bold" },
            },
            title: {
              display: true, text: p.xTitle, color: TICK_COLOR,
              font: { family: SANS, size: 13, weight: "bold" },
              padding: { top: 0, bottom: XH - 22 - 7.8 },
            },
            afterFit: (s: any) => { s.height = XH; },
          },
          y: {
            type: "logarithmic",
            min: Math.pow(10, p.yMinE),
            max: Math.pow(10, p.yMaxE),
            grid: { display: false, drawTicks: false },
            border: { display: false },
            ticks: { display: false },
            title: {
              display: true, text: p.yTitle, color: TICK_COLOR,
              font: { family: SANS, size: 13, weight: "bold" },
              padding: { top: p.yTitleX - 7.8, bottom: 0 },
            },
            afterFit: (s: any) => { s.width = YW; },
          },
        },
      } as any,
      plugins: [matlabPlugin],
    });
    return () => chart.destroy();
  }, []);
  return (
    <canvas
      ref={ref}
      width={CW}
      height={H}
      style={{ position: "absolute", left: p.l - YW, top: p.t - TOP, width: CW, height: H }}
    />
  );
}

const CAP_STRETCH = 1.12;

function Caption({ lines, left, top, width }: { lines: string[]; left: number; top: number; width: number }) {
  return (
    <div
      style={{
        position: "absolute", left, top, width: width / CAP_STRETCH,
        fontFamily: SERIF, fontSize: 21, lineHeight: "24px", color: "#000",
        transform: `scaleX(${CAP_STRETCH})`, transformOrigin: "0 0",
      }}
    >
      {lines.map((ln, i) => (
        <div
          key={i}
          style={{
            textAlign: i < lines.length - 1 ? "justify" : "left",
            textAlignLast: i < lines.length - 1 ? "justify" : "left",
            whiteSpace: "nowrap",
          } as any}
        >
          {ln}
        </div>
      ))}
    </div>
  );
}

export default function App() {
  const capLefts = [8, 417, 819];
  const capWidths = [375, 375, 374];
  return (
    <div style={{ position: "absolute", left: 0, top: 0, width: 1207, height: 768, background: "#fff", overflow: "hidden" }}>
      {panels.map((p, i) => (
        <PanelChart key={i} p={p} />
      ))}
      {captionsTop.map((c, i) => (
        <Caption key={"t" + i} lines={c} left={capLefts[i]} top={293} width={capWidths[i]} />
      ))}
      {captionsBottom.map((c, i) => (
        <Caption key={"b" + i} lines={c} left={capLefts[i]} top={674} width={capWidths[i]} />
      ))}
    </div>
  );
}
